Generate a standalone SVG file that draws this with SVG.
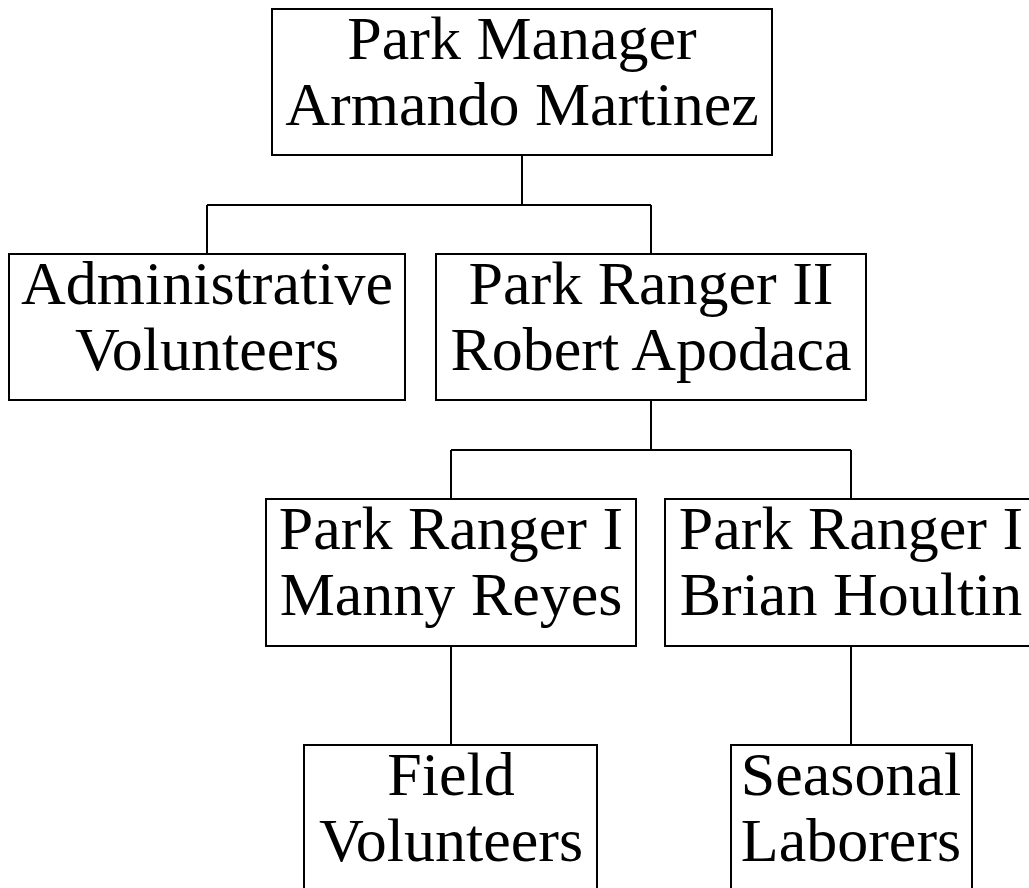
<svg xmlns="http://www.w3.org/2000/svg" width="1029" height="888" viewBox="0 0 1029 888">
<style>
.box{fill:#fff;stroke:#000;stroke-width:2}
.t{font-family:"Liberation Serif","Times New Roman",serif;font-size:62px;fill:#000;text-anchor:middle}
.c{fill:none;stroke:#000;stroke-width:2}
</style>
<rect width="1029" height="888" fill="#fff"/>
<g id="connectors">
<path class="c" d="M522,155 V205 M207,205 H651 M207,205 V254 M651,205 V254"/>
<path class="c" d="M651,400 V450 M451,450 H851 M451,450 V499 M851,450 V499"/>
<path class="c" d="M451,646 V745 M851,646 V745"/>
</g>
<g id="n-manager">
<rect class="box" x="272" y="9" width="500" height="146"/>
<text class="t" x="522" y="59">Park Manager</text>
<text class="t" x="522" y="125">Armando Martinez</text>
</g>
<g id="n-admin">
<rect class="box" x="9" y="254" width="396" height="146"/>
<text class="t" x="207" y="304">Administrative</text>
<text class="t" x="207" y="370">Volunteers</text>
</g>
<g id="n-ranger2">
<rect class="box" x="436" y="254" width="430" height="146"/>
<text class="t" x="651" y="304">Park Ranger II</text>
<text class="t" x="651" y="370">Robert Apodaca</text>
</g>
<g id="n-manny">
<rect class="box" x="266" y="499" width="370" height="147"/>
<text class="t" x="451" y="549">Park Ranger I</text>
<text class="t" x="451" y="615">Manny Reyes</text>
</g>
<g id="n-brian">
<rect class="box" x="665" y="499" width="372" height="147"/>
<text class="t" x="851" y="549">Park Ranger I</text>
<text class="t" x="851" y="615">Brian Houltin</text>
</g>
<g id="n-field">
<rect class="box" x="304" y="745" width="293" height="150"/>
<text class="t" x="451" y="795">Field</text>
<text class="t" x="451" y="861">Volunteers</text>
</g>
<g id="n-seasonal">
<rect class="box" x="731" y="745" width="241" height="150"/>
<text class="t" x="851" y="795">Seasonal</text>
<text class="t" x="851" y="861">Laborers</text>
</g>
</svg>
